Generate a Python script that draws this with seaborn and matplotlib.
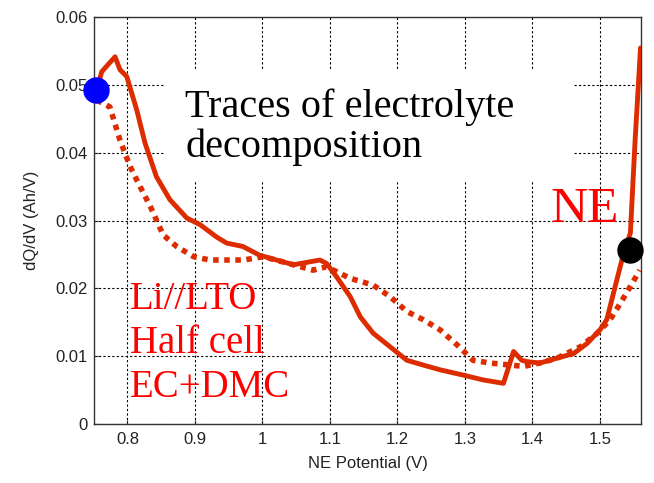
import matplotlib
matplotlib.use("Agg")
import matplotlib.pyplot as plt
import seaborn as sns
import pandas as pd
from matplotlib.patches import Rectangle

# ---- data ----
solid_v = [0.755, 0.762, 0.7817, 0.789, 0.799, 0.814, 0.826, 0.843, 0.863, 0.888,
           0.908, 0.932, 0.947, 0.971, 0.996, 1.046, 1.085, 1.095, 1.110, 1.130,
           1.145, 1.164, 1.189, 1.214, 1.238, 1.263, 1.298, 1.327, 1.357, 1.372,
           1.384, 1.392, 1.411, 1.436, 1.461, 1.481, 1.500, 1.510, 1.525, 1.535,
           1.545, 1.552, 1.560]
solid_q = [0.0495, 0.0520, 0.0542, 0.0523, 0.0513, 0.0463, 0.0415, 0.0365, 0.0331, 0.0304,
           0.0294, 0.0276, 0.0267, 0.0262, 0.0249, 0.0235, 0.0242, 0.0237, 0.0217, 0.0188,
           0.0158, 0.0134, 0.0114, 0.0094, 0.0087, 0.0080, 0.0072, 0.0065, 0.0060, 0.0107,
           0.0094, 0.0092, 0.0090, 0.0097, 0.0104, 0.0119, 0.0139, 0.0154, 0.0213, 0.0252,
           0.0282, 0.0419, 0.0555]

dotted_v = [0.7546, 0.774, 0.789, 0.804, 0.819, 0.834, 0.853, 0.873, 0.898, 0.922,
            0.972, 1.001, 1.046, 1.075, 1.095, 1.130, 1.164, 1.189, 1.214, 1.238,
            1.263, 1.288, 1.312, 1.337, 1.387, 1.411, 1.436, 1.471, 1.496, 1.515,
            1.530, 1.545, 1.559]
dotted_q = [0.0478, 0.0468, 0.0419, 0.0380, 0.0350, 0.0321, 0.0279, 0.0262, 0.0247, 0.0242,
            0.0242, 0.0247, 0.0235, 0.0227, 0.0232, 0.0215, 0.0205, 0.0188, 0.0166, 0.0154,
            0.0139, 0.0117, 0.0094, 0.0090, 0.0085, 0.0090, 0.0097, 0.0114, 0.0134, 0.0154,
            0.0178, 0.0203, 0.0227]

start_pt = (0.753, 0.0493)
end_pt = (1.545, 0.0257)

x_ticks = [0.8, 0.9, 1.0, 1.1, 1.2, 1.3, 1.4, 1.5]
x_tick_labels = ["0.8", "0.9", "1", "1.1", "1.2", "1.3", "1.4", "1.5"]
y_ticks = [0, 0.01, 0.02, 0.03, 0.04, 0.05, 0.06]
y_tick_labels = ["0", "0.01", "0.02", "0.03", "0.04", "0.05", "0.06"]

df_solid = pd.DataFrame({"V": solid_v, "dQdV": solid_q})
df_dot = pd.DataFrame({"V": dotted_v, "dQdV": dotted_q})

sns.set_theme(style="white")
plt.rcParams["font.family"] = ["Liberation Sans", "DejaVu Sans"]

fig = plt.figure(figsize=(6.54, 4.83), dpi=100)
ax = fig.add_axes([0.1442, 0.1222, 0.8355, 0.8416])

line_color = "#DD2C00"
sns.lineplot(data=df_solid, x="V", y="dQdV", ax=ax, color=line_color, lw=3.5,
             sort=False, estimator=None, zorder=3)
sns.lineplot(data=df_dot, x="V", y="dQdV", ax=ax, color=line_color, lw=4.0,
             sort=False, estimator=None, zorder=3)
ax.lines[-1].set_dashes([1.0, 1.0])
ax.lines[-1].set_dash_capstyle("butt")

ax.plot([start_pt[0]], [start_pt[1]], "o", color="#0000FF", ms=18, zorder=5, clip_on=False)
ax.plot([end_pt[0]], [end_pt[1]], "o", color="black", ms=18, zorder=5, clip_on=False)

ax.set_xlim(0.751, 1.5603)
ax.set_ylim(0, 0.06)
ax.set_xticks(x_ticks)
ax.set_xticklabels(x_tick_labels)
ax.set_yticks(y_ticks)
ax.set_yticklabels(y_tick_labels)
ax.tick_params(labelsize=12, colors="#222222", direction="in", length=3, width=0.8,
               bottom=True, left=True)
ax.tick_params(axis="x", pad=6)
ax.tick_params(axis="y", pad=4.5)
ax.grid(True, color="black", linestyle=(0, (2, 2)), linewidth=0.8)
ax.set_axisbelow(True)
for s in ax.spines.values():
    s.set_color("#333333")
    s.set_linewidth(1.0)

ax.set_xlabel("NE Potential (V)", fontsize=12, color="#222222", labelpad=6)
ax.set_ylabel("dQ/dV (Ah/V)", fontsize=12, color="#222222", labelpad=12)

# white box masking the grid behind the annotation
ax.add_patch(Rectangle((0.129, 0.600), 0.747, 0.271, transform=ax.transAxes,
                       facecolor="white", edgecolor="none", zorder=1))

ax.text(0.166, 0.657, "Traces of electrolyte\ndecomposition", transform=ax.transAxes,
        fontsize=29, family=["Liberation Serif"], color="black", va="baseline",
        ha="left", linespacing=1.08, zorder=4)
ax.text(0.834, 0.497, "NE", transform=ax.transAxes, fontsize=37,
        family=["Liberation Serif"], color="#FF0000", va="baseline", ha="left", zorder=4)
ax.text(0.0654, 0.0664, "Li//LTO\nHalf cell\nEC+DMC", transform=ax.transAxes,
        fontsize=28, family=["Liberation Serif"], color="#FF0000", va="baseline",
        ha="left", linespacing=1.25, zorder=4)

fig.savefig("out.png", dpi=100)
